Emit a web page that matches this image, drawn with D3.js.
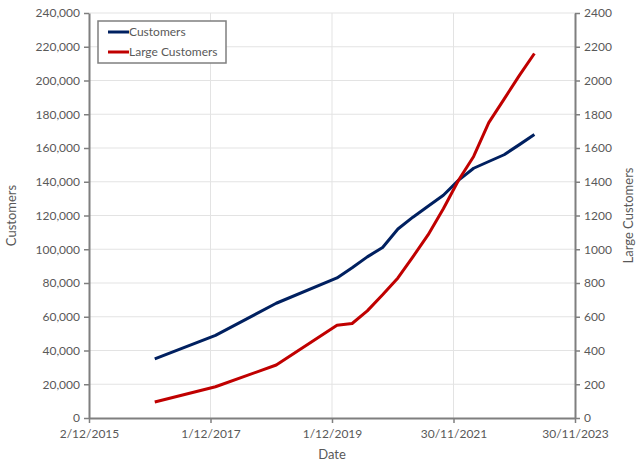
<!DOCTYPE html>
<html>
<head>
<meta charset="utf-8">
<script src="https://cdn.jsdelivr.net/npm/d3@7"></script>
<style>
  body { margin: 0; background: #fff; }
  text { font-family: Lato, "Open Sans", sans-serif; fill: #595959; }
</style>
</head>
<body>
<div id="chart"></div>
<script>
"use strict";

// period end dates (annual then quarterly)
const dates = [
    "2016-12-31", "2017-12-31", "2018-12-31", "2019-12-31",
    "2020-03-31", "2020-06-30", "2020-09-30", "2020-12-31",
    "2021-03-31", "2021-06-30", "2021-09-30", "2021-12-31",
    "2022-03-31", "2022-06-30", "2022-09-30", "2022-12-31",
    "2023-03-31"
];
const customers = [
    35000, 49000, 68000, 83000,
    89000, 95500, 101000, 112000,
    119000, 125500, 132000, 141000,
    148000, 152000, 156000, 162000,
    168000
];
const largeCustomers = [
    95, 185, 314, 550,
    560, 635, 730, 830,
    955, 1085, 1240, 1410,
    1550, 1750, 1890, 2030,
    2160
];
const xTickLabels = ["2/12/2015", "1/12/2017", "1/12/2019", "30/11/2021", "30/11/2023"];
const seriesNames = ["Customers", "Large Customers"];

const width = 640;
const height = 465;
const margin = { top: 13, right: 65, bottom: 47, left: 89 };

const parse = d3.timeParse("%Y-%m-%d");
const parseTick = d3.timeParse("%d/%m/%Y");
const tickDates = xTickLabels.map(parseTick);

const svg = d3.select("#chart")
    .append("svg")
    .attr("width", width)
    .attr("height", height);

const x = d3.scaleTime()
    .domain([tickDates[0], tickDates[tickDates.length - 1]])
    .range([margin.left, width - margin.right]);

const yLeft = d3.scaleLinear()
    .domain([0, 240000])
    .range([height - margin.bottom, margin.top]);

const yRight = d3.scaleLinear()
    .domain([0, 2400])
    .range([height - margin.bottom, margin.top]);

const leftTicks = d3.range(0, 240001, 20000);
const rightTicks = d3.range(0, 2401, 200);

// gridlines
svg.append("g")
    .selectAll("line")
    .data(leftTicks.slice(1))
    .join("line")
    .attr("x1", margin.left)
    .attr("x2", width - margin.right)
    .attr("y1", d => yLeft(d))
    .attr("y2", d => yLeft(d))
    .attr("stroke", "#e3e3e3")
    .attr("stroke-width", 1);

svg.append("g")
    .selectAll("line")
    .data(tickDates.slice(1, -1))
    .join("line")
    .attr("x1", d => x(d))
    .attr("x2", d => x(d))
    .attr("y1", margin.top)
    .attr("y2", height - margin.bottom)
    .attr("stroke", "#e3e3e3")
    .attr("stroke-width", 1);

// axes
function styleAxis(g) {
    g.selectAll(".domain").attr("stroke", "#7f7f7f").attr("stroke-width", 2);
    g.selectAll(".tick line").attr("stroke", "#7f7f7f").attr("stroke-width", 1.5);
    g.selectAll(".tick text").style("font-size", "12px").attr("fill", "#595959");
}

svg.append("g")
    .attr("transform", `translate(0,${height - margin.bottom})`)
    .call(d3.axisBottom(x)
        .tickValues(tickDates)
        .tickSize(5)
        .tickSizeOuter(0)
        .tickPadding(6)
        .tickFormat((d, i) => xTickLabels[i]))
    .call(styleAxis);

svg.append("g")
    .attr("transform", `translate(${margin.left},0)`)
    .call(d3.axisLeft(yLeft)
        .tickValues(leftTicks)
        .tickSize(5)
        .tickSizeOuter(0)
        .tickPadding(4)
        .tickFormat(d3.format(",")))
    .call(styleAxis);

svg.append("g")
    .attr("transform", `translate(${width - margin.right},0)`)
    .call(d3.axisRight(yRight)
        .tickValues(rightTicks)
        .tickSize(5)
        .tickSizeOuter(0)
        .tickPadding(4)
        .tickFormat(d3.format("d")))
    .call(styleAxis);

// axis titles
svg.append("text")
    .attr("x", (margin.left + width - margin.right) / 2)
    .attr("y", 459)
    .attr("text-anchor", "middle")
    .style("font-size", "13px")
    .text("Date");

svg.append("text")
    .attr("transform", `translate(16,${(margin.top + height - margin.bottom) / 2}) rotate(-90)`)
    .attr("text-anchor", "middle")
    .style("font-size", "13px")
    .text("Customers");

svg.append("text")
    .attr("transform", `translate(633,${(margin.top + height - margin.bottom) / 2}) rotate(-90)`)
    .attr("text-anchor", "middle")
    .style("font-size", "13px")
    .text("Large Customers");

// lines
const points = dates.map((d, i) => ({
    date: parse(d),
    cust: customers[i],
    large: largeCustomers[i]
}));

const lineCust = d3.line()
    .x(d => x(d.date))
    .y(d => yLeft(d.cust));

const lineLarge = d3.line()
    .x(d => x(d.date))
    .y(d => yRight(d.large));

svg.append("path")
    .datum(points)
    .attr("d", lineCust)
    .attr("fill", "none")
    .attr("stroke", "#002060")
    .attr("stroke-width", 3)
    .attr("stroke-linejoin", "round");

svg.append("path")
    .datum(points)
    .attr("d", lineLarge)
    .attr("fill", "none")
    .attr("stroke", "#c00000")
    .attr("stroke-width", 3)
    .attr("stroke-linejoin", "round");

// legend
const legend = svg.append("g").attr("transform", "translate(98,21)");
legend.append("rect")
    .attr("width", 128)
    .attr("height", 42)
    .attr("fill", "#fff")
    .attr("stroke", "#7f7f7f")
    .attr("stroke-width", 1.5);

const legendColors = ["#002060", "#c00000"];
seriesNames.forEach((name, i) => {
    const ly = 11 + i * 20;
    legend.append("line")
        .attr("x1", 10)
        .attr("x2", 31)
        .attr("y1", ly)
        .attr("y2", ly)
        .attr("stroke", legendColors[i])
        .attr("stroke-width", 3);
    legend.append("text")
        .attr("x", 31)
        .attr("y", ly + 4)
        .style("font-size", "12px")
        .attr("fill", "#404040")
        .text(name);
});
</script>
</body>
</html>
